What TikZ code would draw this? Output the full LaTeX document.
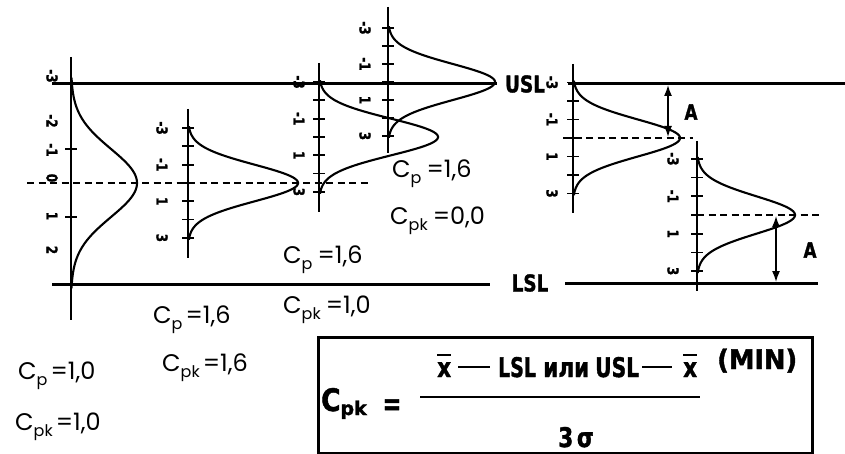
\documentclass[tikz,border=0pt]{standalone}
\usepackage{fontspec}
\usepackage{graphicx}
\setmainfont{Poppins}
\newfontfamily\hvfont{DejaVu Sans}[BoldFeatures={FakeBold=1.6}]
\usetikzlibrary{arrows.meta}
\newcommand{\hvt}[3][0.8]{{\hvfont\bfseries\fontsize{#2}{#2}\selectfont\scalebox{#1}[1]{#3}}}
\newcommand{\cpsub}[1]{\raisebox{-6pt}{\fontsize{16}{16}\selectfont #1}}
\newcommand{\gcurve}[4]{\draw[curve] plot[domain=-3.1:3.1,samples=110,smooth] ({#1+#4*exp(-0.5*(\x)*(\x))},{#2+#3*(\x)});}
\newcommand{\ticks}[3]{\foreach \k in {-3,...,3} {\draw[tickl] ({#1-6},{#2+\k*#3}) -- ({#1+6},{#2+\k*#3});}}
\newcommand{\tl}[1]{\hvt[0.8]{15}{#1}}
\newcommand{\tlabs}[5]{\foreach \k/\t/\n in {-3/-3/a,-1/-1/b,1/1/c,3/3/d} {\node[tlab] (#5\n) at ({#1-#4},{#2+\k*#3}) {\tl{\t}};}}
\begin{document}
\begin{tikzpicture}[x=1pt,y=-1pt,
  spec/.style={line width=3pt},
  axisl/.style={line width=2.8pt},
  tickl/.style={line width=1.8pt},
  curve/.style={line width=2.1pt},
  meanl/.style={line width=2.3pt, dash pattern=on 7pt off 4.5pt},
  tlab/.style={rotate=-90, inner sep=0pt},
  cplab/.style={anchor=base west, inner sep=0pt, font=\fontsize{24}{28}\selectfont},
  fw/.style={anchor=base west, inner sep=0pt},
  dimarr/.style={line width=1.5pt, {Latex[length=11pt,width=8pt]}-{Latex[length=11pt,width=8pt]}},
  fbar/.style={line width=2.8pt}]
\useasboundingbox (0,0) rectangle (845,454);
\fill[white] (0,0) rectangle (845,454);

% specification lines
\coordinate (uslLa) at (52,84);  \coordinate (uslLb) at (497,84);
\coordinate (lslLa) at (52,284); \coordinate (lslLb) at (490,284);
\coordinate (uslRa) at (568,84); \coordinate (uslRb) at (845,84);
\coordinate (lslRa) at (565,283); \coordinate (lslRb) at (818,283);
\draw[spec] (uslLa) -- (uslLb);
\draw[spec] (lslLa) -- (lslLb);
\draw[spec] (uslRa) -- (uslRb);
\draw[spec] (lslRa) -- (lslRb);
\node[inner sep=0pt] (usl) at (525,84) {\hvt{23}{USL}};
\node[inner sep=0pt] (lsl) at (530,283) {\hvt{23}{LSL}};

% mean lines
\coordinate (m1a) at (27,183); \coordinate (m1b) at (370,183);
\draw[meanl] (m1a) -- (m1b);
\coordinate (m5a) at (563,138); \coordinate (m5b) at (693,138);
\draw[meanl] (m5a) -- (m5b);
\coordinate (m6a) at (697,215); \coordinate (m6b) at (822,215);
\draw[meanl] (m6a) -- (m6b);

% distribution 1
\coordinate (ax1a) at (71,57); \coordinate (ax1b) at (71,320);
\draw[axisl] (ax1a) -- (ax1b);
\foreach \k in {-1,1} {\draw[tickl] ({71-6},{183+\k*34}) -- ({71+6},{183+\k*34});}
\gcurve{71}{183}{34}{66}
\foreach \y/\t/\n in {76/-3/a,121/-2/b,150/-1/c,178/0/d,216/1/e,250/2/f} {\node[tlab] (l1\n) at (52,\y) {\tl{\t}};}

% distribution 2
\coordinate (ax2a) at (188,109); \coordinate (ax2b) at (188,258);
\draw[axisl] (ax2a) -- (ax2b);
\ticks{188}{183}{18.3}
\gcurve{188}{183}{18.3}{110}
\tlabs{188}{183}{18.3}{26}{l2}

% distribution 3
\coordinate (ax3a) at (319,63); \coordinate (ax3b) at (319,212);
\draw[axisl] (ax3a) -- (ax3b);
\ticks{319}{137}{18.3}
\gcurve{319}{137}{18.3}{119}
\tlabs{319}{137}{18.3}{20}{l3}

% distribution 4
\coordinate (ax4a) at (388,7); \coordinate (ax4b) at (388,153);
\draw[axisl] (ax4a) -- (ax4b);
\ticks{388}{82}{18}
\gcurve{388}{82}{18}{107}
\tlabs{388}{82}{18}{23}{l4}

% distribution 5
\coordinate (ax5a) at (573,64); \coordinate (ax5b) at (573,213);
\draw[axisl] (ax5a) -- (ax5b);
\ticks{573}{138}{18.5}
\gcurve{573}{138}{18.5}{107}
\tlabs{573}{138}{18.5}{21}{l5}

% distribution 6
\coordinate (ax6a) at (697,141); \coordinate (ax6b) at (697,291);
\draw[axisl] (ax6a) -- (ax6b);
\ticks{697}{215}{18.7}
\gcurve{697}{215}{18.7}{98}
\tlabs{697}{215}{18.7}{24}{l6}

% A dimensions
\coordinate (A1t) at (668,85); \coordinate (A1b) at (668,137);
\draw[dimarr] (A1t) -- (A1b);
\node[inner sep=0pt] (lA1) at (691,112) {\hvt{21}{A}};
\coordinate (A2t) at (776,216); \coordinate (A2b) at (776,282);
\draw[dimarr] (A2t) -- (A2b);
\node[inner sep=0pt] (lA2) at (810,250) {\hvt{21}{A}};

% Cp / Cpk labels
\node[cplab] (cp1a) at (18,379) {C\cpsub{p}\hspace{3pt}=1,0};
\node[cplab] (cp1b) at (15,430) {C\cpsub{pk}\hspace{3pt}=1,0};
\node[cplab] (cp2a) at (153,323) {C\cpsub{p}\hspace{3pt}=1,6};
\node[cplab] (cp2b) at (162,371) {C\cpsub{pk}\hspace{3pt}=1,6};
\node[cplab] (cp3a) at (283,263) {C\cpsub{p}\hspace{5pt}=1,6};
\node[cplab] (cp3b) at (283,313) {C\cpsub{pk}\hspace{5pt}=1,0};
\node[cplab] (cp4a) at (392,178) {C\cpsub{p}\hspace{5pt}=1,6};
\node[cplab] (cp4b) at (390,225) {C\cpsub{pk}\hspace{5pt}=0,0};

% formula box
\node[draw, line width=3pt, minimum width=494pt, minimum height=116pt, inner sep=0pt] (fbox) at (565,395) {};
\node[fw] (fC) at (321,411) {\hvt[0.85]{31}{C}\raisebox{-4pt}{\hvt[1]{19}{pk}}};
\node[inner sep=0pt] (feq) at (392,407) {\hvt[0.7]{32}{=}};
\coordinate (fb1) at (420,397); \coordinate (fb2) at (700,397);
\draw[fbar] (fb1) -- (fb2);
\node[fw] (fx1) at (437,377) {\hvt{27}{x}};
\draw[fbar] ([yshift=7pt]fx1.north west) -- ([yshift=7pt]fx1.north east);
\coordinate (fd1a) at (458,367); \coordinate (fd1b) at (490,367);
\draw[fbar] (fd1a) -- (fd1b);
\node[fw] (flsl) at (498,377) {\hvt[0.7]{27}{LSL}};
\node[fw] (fili) at (543,377) {\hvt[0.8]{27}{или}};
\node[fw] (fusl) at (595,377) {\hvt[0.75]{27}{USL}};
\coordinate (fd2a) at (642,367); \coordinate (fd2b) at (672,367);
\draw[fbar] (fd2a) -- (fd2b);
\node[fw] (fx2) at (683,377) {\hvt{27}{x}};
\draw[fbar] ([yshift=7pt]fx2.north west) -- ([yshift=7pt]fx2.north east);
\node[fw] (fmin) at (717,369) {\hvt[0.95]{27}{(MIN)}};
\node[anchor=base, inner sep=0pt] (fden) at (576,447) {\hvt{27}{3\,σ}};
\end{tikzpicture}
\end{document}
